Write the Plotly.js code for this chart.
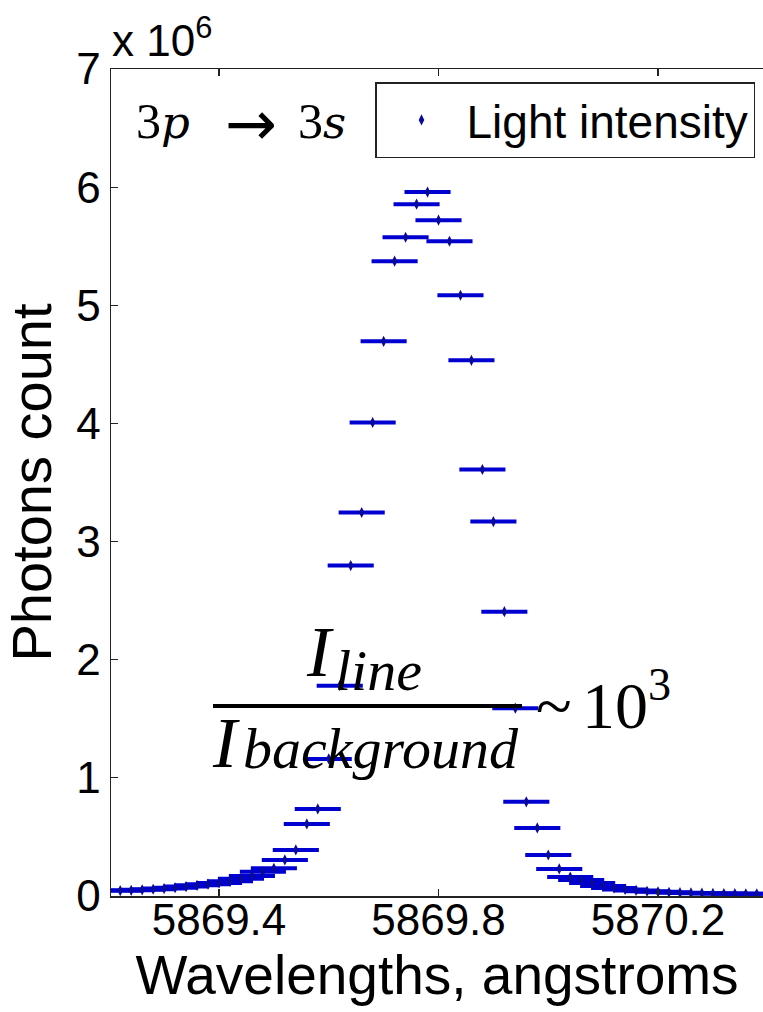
<!DOCTYPE html>
<html>
<head>
<meta charset="utf-8">
<script src="https://cdn.plot.ly/plotly-3.0.1.min.js"></script>
<style>
  html, body { margin: 0; padding: 0; background: #ffffff; }
  #chart { width: 763px; height: 1012px; }
</style>
</head>
<body>
<div id="chart"></div>
<script>
// Wavelength bins (angstroms)
const wavelengths = [
  5869.22, 5869.24, 5869.26, 5869.28, 5869.30, 5869.32, 5869.34, 5869.36, 5869.38, 5869.40,
  5869.42, 5869.44, 5869.46, 5869.48, 5869.50, 5869.52, 5869.54, 5869.56, 5869.58, 5869.60,
  5869.62, 5869.64, 5869.66, 5869.68, 5869.70, 5869.72, 5869.74, 5869.76, 5869.78, 5869.80,
  5869.82, 5869.84, 5869.86, 5869.88, 5869.90, 5869.92, 5869.94, 5869.96, 5869.98, 5870.00,
  5870.02, 5870.04, 5870.06, 5870.08, 5870.10, 5870.12, 5870.14, 5870.16, 5870.18, 5870.20,
  5870.22, 5870.24, 5870.26, 5870.28, 5870.30, 5870.32, 5870.34, 5870.36, 5870.38
];
// Photon counts in units of 10^6
const photonsMillions = [
  0.045, 0.048, 0.052, 0.057, 0.063, 0.070, 0.080, 0.090, 0.100, 0.110,
  0.125, 0.145, 0.170, 0.205, 0.235, 0.305, 0.390, 0.610, 0.737, 1.160,
  1.780, 2.797, 3.246, 4.008, 4.695, 5.373, 5.576, 5.856, 5.958, 5.720,
  5.542, 5.085, 4.534, 3.610, 3.169, 2.407, 1.590, 0.797, 0.576, 0.347,
  0.229, 0.160, 0.135, 0.110, 0.085, 0.068, 0.056, 0.047, 0.040, 0.035,
  0.031, 0.028, 0.026, 0.024, 0.022, 0.021, 0.020, 0.019, 0.018
];
// half bin width (horizontal error bar)
const binHalfWidth = 0.042;
const xTickVals = [5869.4, 5869.8, 5870.2];
const xTickText = ['5869.4', '5869.8', '5870.2'];
const yTickVals = [0, 1, 2, 3, 4, 5, 6, 7];
const yTickText = ['0', '1', '2', '3', '4', '5', '6', '7'];

const SANS = 'Liberation Sans, Arial, sans-serif';
const SERIF = 'Liberation Serif, Times New Roman, serif';

const W = 763, H = 1012;
const mL = 111, mR = 0, mT = 69, mB = 116;
const pw = W - mL - mR, ph = H - mT - mB;
const px = v => (v - mL) / pw;
const py = v => (H - mB - v) / ph;

const trace = {
  type: 'scatter',
  mode: 'markers',
  name: 'Light intensity',
  x: wavelengths,
  y: photonsMillions,
  marker: { symbol: 'diamond-tall', size: 8, color: '#0a0a9a' },
  error_x: { type: 'constant', value: binHalfWidth, thickness: 4, width: 0, color: '#0000d0' },
  showlegend: true
};

function itSpan(t, size) {
  return '<span style="font-family:DejaVu Serif;font-style:italic;font-size:' + size + 'px">' + t + '</span>';
}
function txt(text, left, bottom, family, size, italic) {
  return { xref: 'paper', yref: 'paper', x: px(left), y: py(bottom), xanchor: 'left', yanchor: 'bottom',
    text: italic ? '<i>' + text + '</i>' : text, showarrow: false,
    font: { family: family, size: size, color: '#000000' } };
}

const layout = {
  width: W, height: H,
  margin: { l: mL, r: mR, t: mT, b: mB, pad: 0 },
  paper_bgcolor: '#ffffff',
  plot_bgcolor: '#ffffff',
  showlegend: true,
  legend: {
    x: px(375), y: py(82), xanchor: 'left', yanchor: 'top',
    bordercolor: '#222222', borderwidth: 1.5, bgcolor: '#ffffff',
    font: { family: SANS, size: 46, color: '#000000' },
    itemwidth: 80, tracegroupgap: 0
  },
  xaxis: {
    range: [5869.2032, 5870.3913],
    tickvals: xTickVals, ticktext: xTickText,
    ticks: 'inside', ticklen: 7, tickwidth: 1.2, tickcolor: '#222222',
    ticklabelstandoff: -15,
    showline: true, linecolor: '#222222', linewidth: 1.5, mirror: 'ticks',
    showgrid: false, zeroline: false,
    tickfont: { family: SANS, size: 44, color: '#000000' },
    title: { text: 'Wavelengths, angstroms', font: { family: SANS, size: 55, color: '#000000' }, standoff: 1 }
  },
  yaxis: {
    range: [0, 7],
    tickvals: yTickVals, ticktext: yTickText,
    ticks: 'inside', ticklen: 7, tickwidth: 1.2, tickcolor: '#222222',
    showline: true, linecolor: '#222222', linewidth: 1.5, mirror: false,
    showgrid: false, zeroline: false,
    tickfont: { family: SANS, size: 44, color: '#000000' },
    title: { text: 'Photons count', font: { family: SANS, size: 56, color: '#000000' }, standoff: 6 }
  },
  shapes: [
    { type: 'line', xref: 'paper', yref: 'paper', x0: px(213), x1: px(522), y0: py(706), y1: py(706),
      line: { color: '#000000', width: 4 } }
  ],
  annotations: [
    { xref: 'paper', yref: 'paper', x: px(110), y: py(67), xanchor: 'left', yanchor: 'bottom',
      text: 'x 10<sup>6</sup>', showarrow: false, font: { family: SANS, size: 44, color: '#000000' } },
    // 3p -> 3s
    txt('3' + itSpan('p', 45), 134, 151, SERIF, 50, false),
    { xref: 'paper', yref: 'paper', x: px(223), y: py(123), xanchor: 'left', yanchor: 'middle',
      text: '→', showarrow: false, font: { family: 'DejaVu Sans', size: 62, color: '#000000' } },
    txt('3' + itSpan('s', 45), 296, 151, SERIF, 50, false),
    // I_line / I_background ~ 10^3
    txt('I', 304, 694, SERIF, 72, true),
    txt('line', 333, 705, SERIF, 58, true),
    txt('I', 210, 785, SERIF, 72, true),
    txt('background', 241, 783, SERIF, 58, true),
    txt('~', 534, 744, SERIF, 66, false),
    txt('10<sup>3</sup>', 580, 744, SERIF, 66, false)
  ]
};

Plotly.newPlot('chart', [trace], layout, { displayModeBar: false, staticPlot: true });
</script>
</body>
</html>
